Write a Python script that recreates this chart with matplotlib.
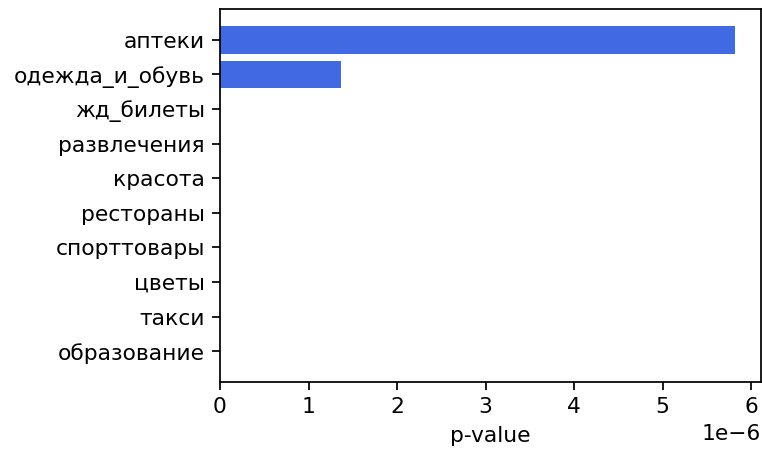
import matplotlib
matplotlib.use("Agg")
import matplotlib.pyplot as plt

categories = ["аптеки", "одежда_и_обувь", "жд_билеты", "развлечения", "красота",
              "рестораны", "спорттовары", "цветы", "такси", "образование"]
p_values = [5.82e-6, 1.37e-6, 2e-9, 1e-9, 5e-10, 2e-10, 1e-10, 5e-11, 2e-11, 1e-11]
title = "Топ-10 категорий с наибольшим p-value (тест Манна-Уитни)"

DPI = 157
fig = plt.figure(figsize=(762/DPI, 451/DPI), dpi=DPI)
ax = fig.add_axes([220/762, (451-382)/451, (761-220)/762, (382-9)/451])
ax.barh(categories, p_values, color="royalblue")
ax.invert_yaxis()
ax.set_xlabel("p-value")
ax.set_title(title, pad=7.5)
fig.savefig("out.png", dpi=DPI)
